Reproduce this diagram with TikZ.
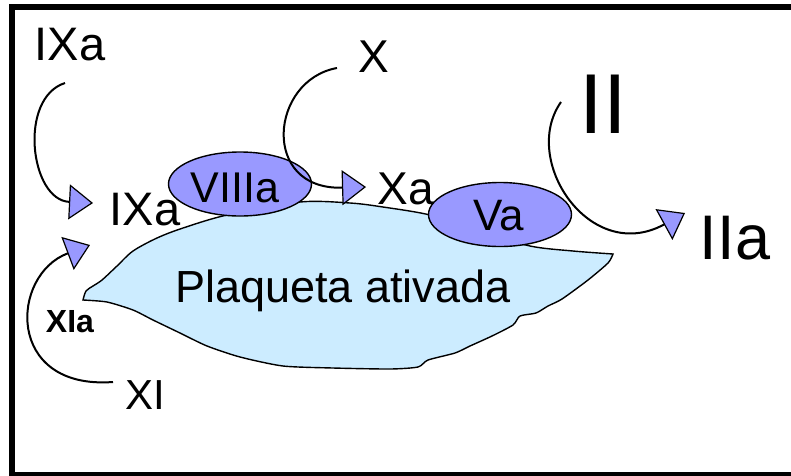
\documentclass[tikz,border=0pt]{standalone}
\usepackage{fontspec}
\setmainfont{Liberation Sans}
\usetikzlibrary{arrows.meta,shapes.geometric}
\definecolor{factorblue}{HTML}{9999FF}
\definecolor{plateletblue}{HTML}{CCECFF}
\tikzset{
  lbl/.style={inner sep=0pt, font=\fontsize{#1}{#1}\selectfont},
  factor/.style={ellipse, draw=black, line width=1.4pt, fill=factorblue, inner sep=0pt,
                 minimum width=143pt, minimum height=64pt, font=\fontsize{44}{44}\selectfont},
  conv/.style={line width=2pt,
               -{Triangle[length=24pt,width=35pt,fill=factorblue,line width=1.2pt,line join=miter]}}
}
\begin{document}
\begin{tikzpicture}[x=1pt,y=-1pt]
\useasboundingbox (0,0) rectangle (791,475);
\clip (0,0) rectangle (791,475);

% outer frame (right side runs off the page)
\draw[line width=6pt] (12,7) rectangle (820,475);

% activated platelet membrane
\filldraw[fill=plateletblue, draw=black, line width=1.4pt]
  plot[smooth, tension=0.5] coordinates {(83,300) (86,291) (93,286) (102,280) (117,266) (133,251)
     (157,238) (183,228) (227,215) (300,202) (350,203) (383,207) (430,215) (480,231)
     (530,246) (573,251) (613,254)}
  -- plot[smooth, tension=0.4] coordinates {(613,254) (608,263) (588,280) (562,299) (548,306)
     (536,313) (520,316) (513,325) (492,336) (470,346) (455,353) (428,360) (418,367)
     (390,369) (333,368) (283,366) (240,357) (207,346) (180,333) (153,320) (133,310)
     (107,302) (83,300)}
  -- cycle;
\node[lbl=45, anchor=base west] (plat) at (175,302) {Plaqueta ativada};

% cofactors bound to the membrane
\node[factor] (viii) at (240,184) {};
\node[lbl=43] (viiiT) at (235,188) {VIIIa};
\node[factor] (va) at (500,214.5) {};
\node[lbl=44] (vaT) at (499,216) {Va};

% factor labels
\node[lbl=47] (ixaTop) at (70,45) {IXa};
\node[lbl=47] (ixa) at (145,210) {IXa};
\node[lbl=46] (x) at (374,57) {X};
\node[lbl=46] (xa) at (406,189) {Xa};
\node[lbl=85] (ii) at (603,104) {II};
\node[lbl=63] (iia) at (735,238) {IIa};
\node[lbl=32, font=\fontsize{32}{32}\selectfont\bfseries] (xia) at (70,322) {XIa};
\node[lbl=42] (xi) at (145,395) {XI};

% connector end points
\coordinate (c1s) at (65,83);   \coordinate (c1e) at (93,203);
\coordinate (c2s) at (337,68);  \coordinate (c2e) at (366,187);
\coordinate (c3s) at (561,102); \coordinate (c3e) at (685,213);
\coordinate (c4s) at (113,382); \coordinate (c4e) at (90,245);

% activation arrows
\draw[conv] (c1s) .. controls (18,98) and (30,200) .. (c1e);
\draw[conv] (c2s) .. controls (270,80) and (260,190) .. (c2e);
\draw[conv] (c3s) .. controls (520,160) and (590,265) .. (c3e);
\draw[conv] (c4s) .. controls (5,390) and (10,275) .. (c4e);
\end{tikzpicture}
\end{document}
